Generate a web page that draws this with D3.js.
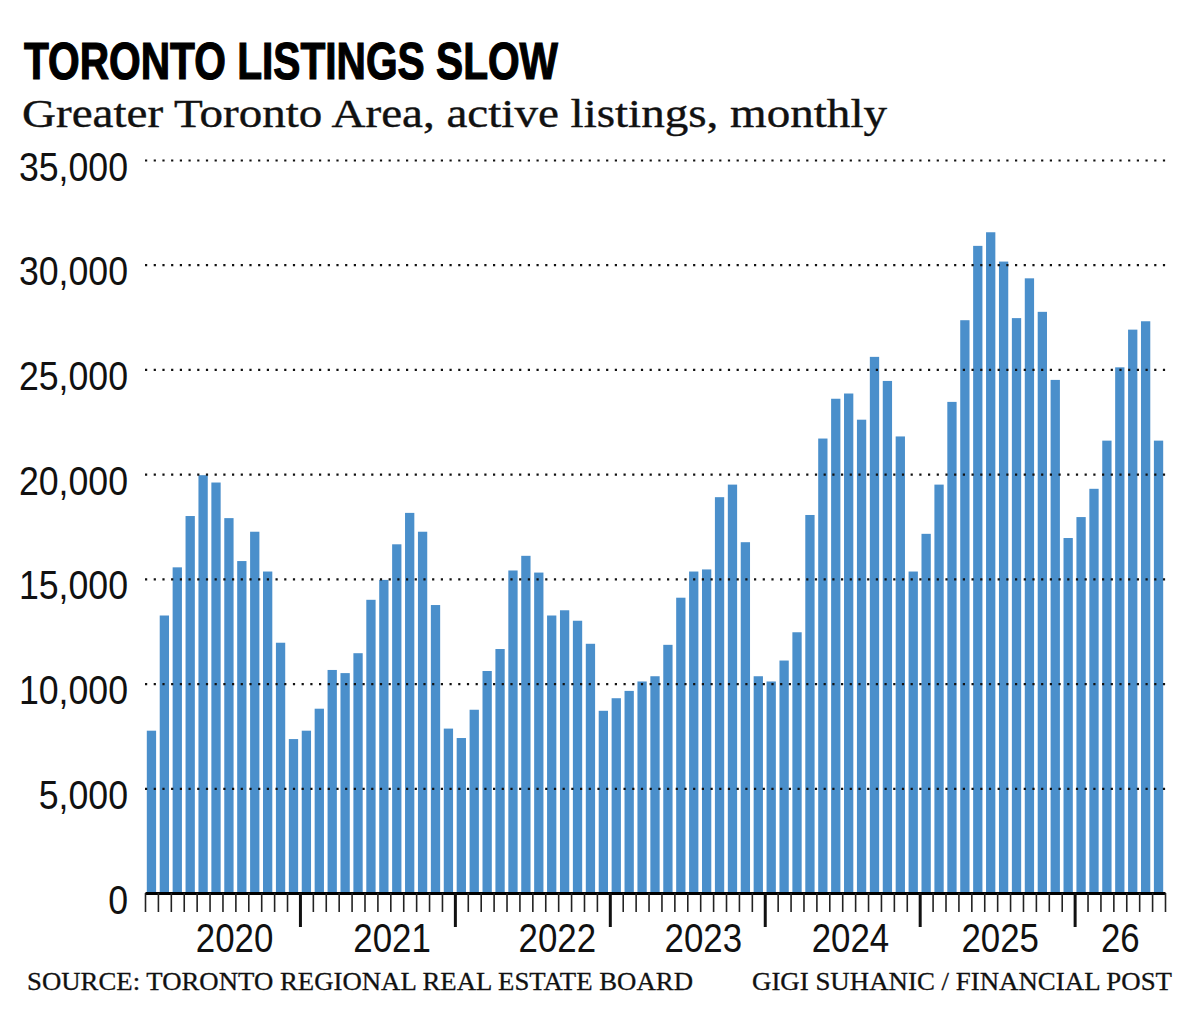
<!DOCTYPE html>
<html>
<head>
<meta charset="utf-8">
<script src="https://cdn.jsdelivr.net/npm/d3@7"></script>
<style>
	body { margin: 0; background: #fff; }
	svg { display: block; }
	.sans { font-family: "Liberation Sans", Arial, sans-serif; }
	.serif { font-family: "Liberation Serif", "Times New Roman", serif; }
</style>
</head>
<body>
<svg id="barchart-vis" width="1200" height="1014"></svg>
<script>
// active listings per month
const listings2020 = [7750, 13250, 15550, 18000, 19950, 19600, 17900, 15850, 17250, 15350, 11950, 7350];
const listings2021 = [7750, 8800, 10650, 10500, 11450, 14000, 14950, 16650, 18150, 17250, 13750, 7850];
const listings2022 = [7400, 8750, 10600, 11650, 15400, 16100, 15300, 13250, 13500, 13000, 11900, 8700];
const listings2023 = [9300, 9650, 10100, 10350, 11850, 14100, 15350, 15450, 18900, 19500, 16750, 10350];
const listings2024 = [10100, 11100, 12450, 18050, 21700, 23600, 23850, 22600, 25600, 24450, 21800, 15350];
const listings2025 = [17150, 19500, 23450, 27350, 30900, 31550, 30150, 27450, 29350, 27750, 24500, 16950];
const listings2026 = [17950, 19300, 21600, 25100, 26900, 27300, 21600];

const years = [2020, 2021, 2022, 2023, 2024, 2025, 2026];
const yearLabels = ["2020", "2021", "2022", "2023", "2024", "2025", "26"];
const yTicks = [0, 5000, 10000, 15000, 20000, 25000, 30000, 35000];

const title = "TORONTO LISTINGS SLOW";
const subtitle = "Greater Toronto Area, active listings, monthly";
const source = "SOURCE: TORONTO REGIONAL REAL ESTATE BOARD";
const credit = "GIGI SUHANIC / FINANCIAL POST";

/*
 * squeezes text horizontally, the chart uses a condensed face
 */
function condense(sel, factor) {
	sel.each(function () {
		let w = this.getComputedTextLength();
		d3.select(this)
			.attr("textLength", w * factor)
			.attr("lengthAdjust", "spacingAndGlyphs");
	});
}

class Barchart {
	constructor(series) {
		this.svg = d3.select("svg#barchart-vis");
		this.bounds = {
			minX: 145,
			maxX: 1165,
			minY: 160,
			maxY: 893,
		};

		this.data = [];
		series.forEach((vals, yi) => {
			vals.forEach((v, m) => this.data.push({ key: `${years[yi]}-${m + 1}`, year: years[yi], value: v }));
		});
		// where each year label sits, counted in months from the left edge
		this.labelAt = [6.9, 19.1, 31.9, 43.2, 54.6, 66.2, 75.5];

		this.updateScales();
		this.drawHeader();
		this.drawBars();
		this.drawGrid();
		this.drawAxisY();
		this.drawAxisX();
		this.drawFooter();
	}

	updateScales() {
		let b = this.bounds;
		this.scaleX = d3.scaleBand()
			.domain(this.data.map(d => d.key))
			.range([b.minX, b.maxX])
			.paddingInner(0.28)
			.paddingOuter(0.14);
		// month index -> x, used for tick marks between bars
		this.scaleM = d3.scaleLinear().domain([0, this.data.length]).range([b.minX, b.maxX]);
		this.scaleY = d3.scaleLinear().domain([0, 35000]).range([b.maxY, b.minY]);
	}

	drawHeader() {
		this.svg.append("text")
			.attr("class", "sans")
			.attr("x", 24).attr("y", 79)
			.attr("font-size", 52).attr("font-weight", 700)
			.attr("stroke", "#000").attr("stroke-width", 1.2)
			.attr("textLength", 534).attr("lengthAdjust", "spacingAndGlyphs")
			.text(title);
		this.svg.append("text")
			.attr("class", "serif")
			.attr("x", 22).attr("y", 127)
			.attr("font-size", 41)
			.attr("fill", "#111")
			.attr("stroke", "#111").attr("stroke-width", 0.4)
			.attr("textLength", 865).attr("lengthAdjust", "spacingAndGlyphs")
			.text(subtitle);
	}

	drawBars() {
		this.svg.append("g").attr("id", "bars")
			.selectAll("rect")
			.data(this.data)
			.join("rect")
			.attr("x", d => this.scaleX(d.key))
			.attr("width", this.scaleX.bandwidth())
			.attr("y", d => this.scaleY(d.value))
			.attr("height", d => this.bounds.maxY - this.scaleY(d.value))
			.attr("fill", "#4a8fcb");
	}

	drawGrid() {
		let g = this.svg.append("g")
			.attr("transform", `translate(${this.bounds.minX} 0)`)
			.call(d3.axisLeft(this.scaleY)
				.tickValues(yTicks.filter(t => t > 0))
				.tickSize(-(this.bounds.maxX + 2 - this.bounds.minX))
				.tickFormat(""));
		g.select(".domain").remove();
		g.selectAll(".tick line")
			.attr("stroke", "#111")
			.attr("stroke-width", 2.2)
			.attr("stroke-dasharray", "2.2 6.5");
	}

	drawAxisY() {
		let g = this.svg.append("g")
			.attr("class", "sans")
			.attr("transform", "translate(128 0)")
			.call(d3.axisLeft(this.scaleY)
				.tickValues(yTicks)
				.tickSize(0)
				.tickPadding(0)
				.tickFormat(d3.format(",")));
		g.select(".domain").remove();
		g.attr("font-size", null);
		let labels = g.selectAll("text")
			.attr("font-size", 41)
			.attr("fill", "#111")
			.attr("dy", "0.49em");
		condense(labels, 0.87);
	}

	drawAxisX() {
		let b = this.bounds;
		let n = this.data.length;
		let yearStarts = d3.range(12, n, 12);

		// month ticks
		let minor = this.svg.append("g")
			.attr("transform", `translate(0 ${b.maxY})`)
			.call(d3.axisBottom(this.scaleM)
				.tickValues(d3.range(0, n + 1).filter(i => !yearStarts.includes(i)))
				.tickSize(19)
				.tickSizeOuter(0)
				.tickFormat(""));
		minor.selectAll(".tick line").attr("stroke", "#222").attr("stroke-width", 1.6);
		minor.select(".domain").attr("stroke", "#000").attr("stroke-width", 3);

		// year boundaries
		let major = this.svg.append("g")
			.attr("transform", `translate(0 ${b.maxY})`)
			.call(d3.axisBottom(this.scaleM)
				.tickValues(yearStarts)
				.tickSize(34)
				.tickSizeOuter(0)
				.tickFormat(""));
		major.select(".domain").remove();
		major.selectAll(".tick line").attr("stroke", "#111").attr("stroke-width", 3);

		// year labels
		let lab = this.svg.append("g")
			.attr("class", "sans")
			.attr("transform", `translate(0 ${b.maxY})`)
			.call(d3.axisBottom(this.scaleM)
				.tickValues(this.labelAt)
				.tickSize(0)
				.tickFormat((_, i) => yearLabels[i]));
		lab.select(".domain").remove();
		lab.attr("font-size", null);
		let texts = lab.selectAll("text")
			.attr("font-size", 41)
			.attr("fill", "#111")
			.attr("y", 59)
			.attr("dy", 0);
		condense(texts, 0.85);
	}

	drawFooter() {
		this.svg.append("text")
			.attr("class", "serif")
			.attr("x", 27).attr("y", 990)
			.attr("font-size", 26)
			.attr("fill", "#111")
			.attr("stroke", "#111").attr("stroke-width", 0.3)
			.attr("textLength", 666).attr("lengthAdjust", "spacingAndGlyphs")
			.text(source);
		this.svg.append("text")
			.attr("class", "serif")
			.attr("x", 752).attr("y", 990)
			.attr("font-size", 26)
			.attr("fill", "#111")
			.attr("stroke", "#111").attr("stroke-width", 0.3)
			.attr("textLength", 420).attr("lengthAdjust", "spacingAndGlyphs")
			.text(credit);
	}
}

new Barchart([listings2020, listings2021, listings2022, listings2023, listings2024, listings2025, listings2026]);
</script>
</body>
</html>
